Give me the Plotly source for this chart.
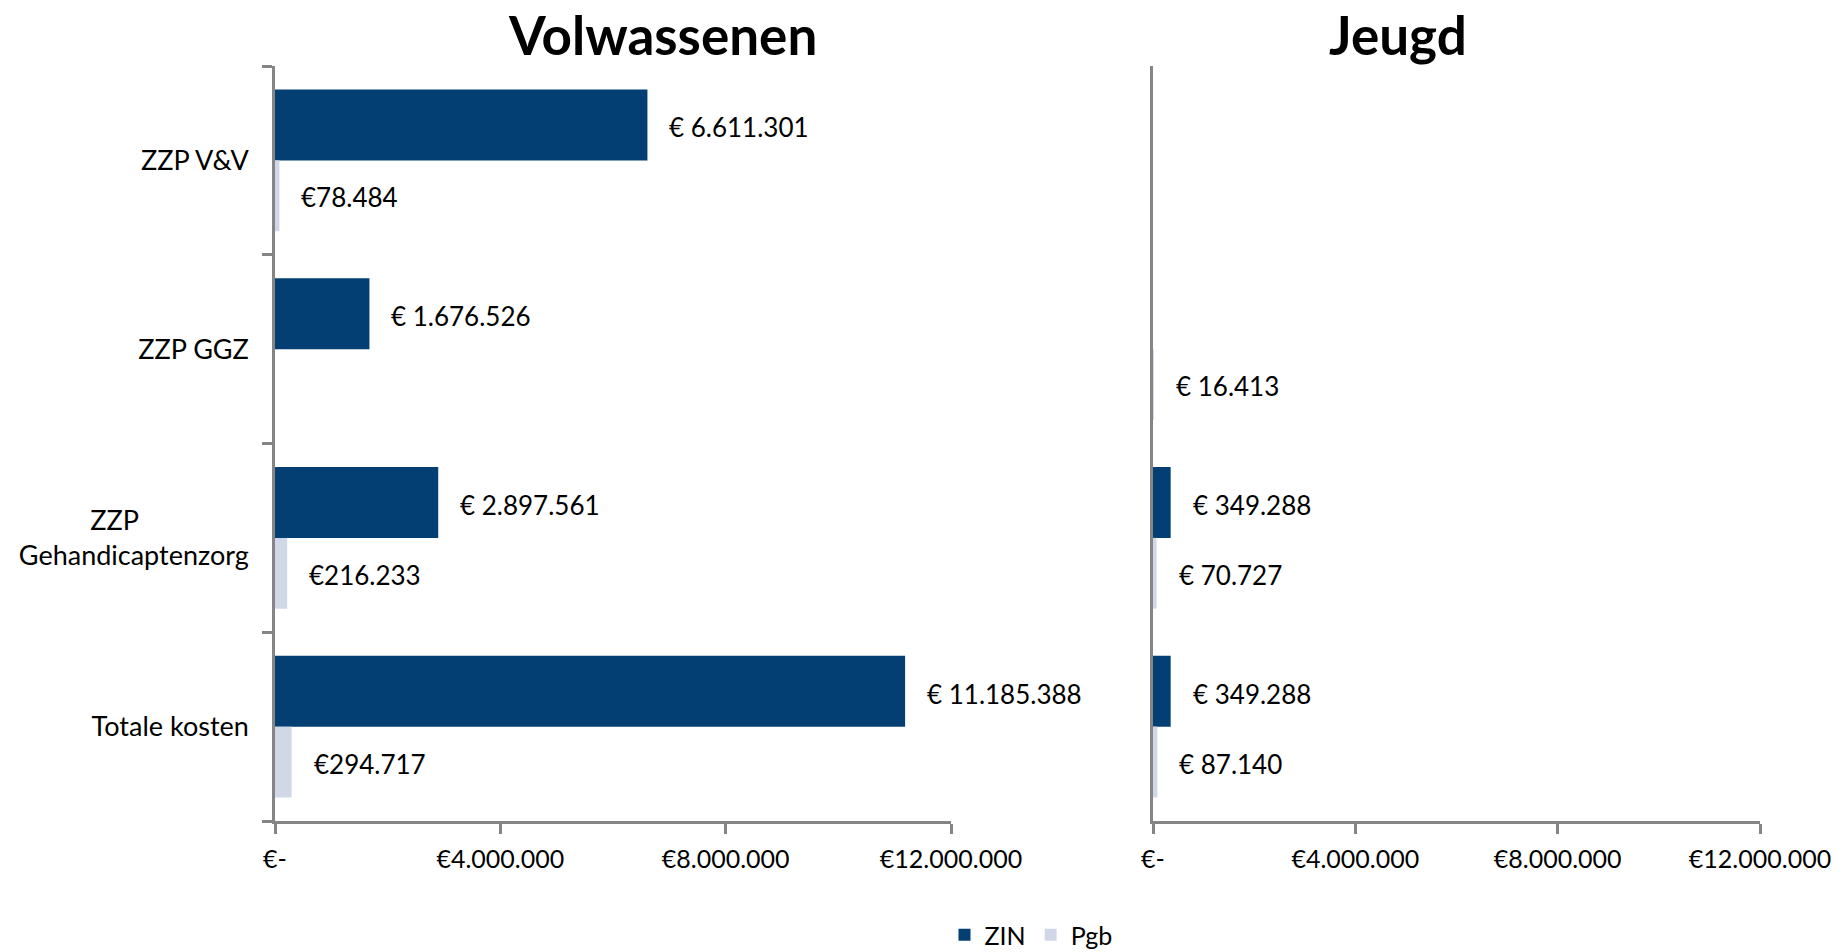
import plotly.graph_objects as go

# Zorgkosten per zorgzwaartepakket, uitgesplitst naar zorg in natura (ZIN) en pgb
categories = ["ZZP V&V", "ZZP GGZ", "ZZP Gehandicaptenzorg", "Totale kosten"]
# "ZZP" wordt met harde spaties boven "Gehandicaptenzorg" gecentreerd
category_labels = ["ZZP V&V", "ZZP GGZ",
                   "ZZP" + "\u00a0" * 16 + "<br>Gehandicaptenzorg", "Totale kosten"]

volw_zin = [6611301, 1676526, 2897561, 11185388]
volw_pgb = [78484, None, 216233, 294717]
jeugd_zin = [None, None, 349288, 349288]
jeugd_pgb = [None, 16413, 70727, 87140]

x_tickvals = [0, 4000000, 8000000, 12000000]
x_ticktext = ["€-", "€4.000.000", "€8.000.000", "€12.000.000"]

ZIN_COLOR = "#033F73"
PGB_COLOR = "#D0D8E8"
AXIS_COLOR = "#858585"
FONT = "Lato"


def euro(value, prefix):
    return prefix + f"{value:,.0f}".replace(",", ".")


fig = go.Figure()

panels = [
    ("x", "y", volw_zin, volw_pgb, "€ ", "€", True),
    ("x2", "y2", jeugd_zin, jeugd_pgb, "€ ", "€ ", False),
]

for xa, ya, zin, pgb, zin_prefix, pgb_prefix, show_legend in panels:
    fig.add_trace(go.Bar(
        y=categories, x=zin, orientation="h", name="ZIN",
        marker=dict(color=ZIN_COLOR, line=dict(width=0)),
        xaxis=xa, yaxis=ya, showlegend=show_legend, legendgroup="ZIN",
    ))
    fig.add_trace(go.Bar(
        y=categories, x=pgb, orientation="h", name="Pgb",
        marker=dict(color=PGB_COLOR, line=dict(width=0)),
        xaxis=xa, yaxis=ya, showlegend=show_legend, legendgroup="Pgb",
    ))
    # waardelabels rechts naast de balken
    for series, prefix, shift in ((zin, zin_prefix, 33), (pgb, pgb_prefix, -37)):
        for cat, val in zip(categories, series):
            if val is None:
                continue
            fig.add_annotation(
                x=val, y=cat, xref=xa, yref=ya, text=euro(val, prefix),
                showarrow=False, xanchor="left", yanchor="middle",
                xshift=20, yshift=shift,
                font=dict(family=FONT, size=26, color="#000000"),
            )

axis_common = dict(
    showline=True, linecolor=AXIS_COLOR, linewidth=2.5,
    showgrid=False, zeroline=False,
)

fig.update_layout(
    template="none",
    width=1840, height=952,
    margin=dict(l=0, r=0, t=0, b=0, autoexpand=False),
    paper_bgcolor="white", plot_bgcolor="white",
    font=dict(family=FONT, size=25, color="#000000"),
    barmode="group", bargap=0.25, bargroupgap=0,
    xaxis=dict(
        domain=[275 / 1840, 951 / 1840], range=[0, 12000000],
        tickvals=x_tickvals, ticktext=x_ticktext,
        ticks="outside", ticklen=10, tickwidth=2.5, tickcolor=AXIS_COLOR,
        ticklabelstandoff=4, tickfont=dict(family=FONT, size=25),
        anchor="y", automargin=False, **axis_common,
    ),
    yaxis=dict(
        domain=[131 / 952, 886 / 952], autorange="reversed",
        type="category", categoryorder="array", categoryarray=categories,
        tickvals=categories, ticktext=category_labels,
        ticks="outside", tickson="boundaries", ticklen=10, tickwidth=2.5,
        tickcolor=AXIS_COLOR, ticklabelstandoff=18,
        tickfont=dict(family=FONT, size=27),
        anchor="x", automargin=False, **axis_common,
    ),
    xaxis2=dict(
        domain=[1153 / 1840, 1760 / 1840], range=[0, 12000000],
        tickvals=x_tickvals, ticktext=x_ticktext,
        ticks="outside", ticklen=10, tickwidth=2.5, tickcolor=AXIS_COLOR,
        ticklabelstandoff=4, tickfont=dict(family=FONT, size=25),
        anchor="y2", automargin=False, **axis_common,
    ),
    yaxis2=dict(
        domain=[131 / 952, 886 / 952], autorange="reversed",
        type="category", categoryorder="array", categoryarray=categories,
        showticklabels=False, ticks="",
        anchor="x2", automargin=False, **axis_common,
    ),
    legend=dict(
        orientation="h", x=1031 / 1840, y=17 / 952,
        xanchor="center", yanchor="middle",
        itemwidth=30, font=dict(family=FONT, size=25),
        bgcolor="rgba(0,0,0,0)",
    ),
    annotations=list(fig.layout.annotations) + [
        dict(text="<b>Volwassenen</b>", x=662 / 1840, y=1 - 35 / 952,
             xref="paper", yref="paper", xanchor="center", yanchor="middle",
             showarrow=False, font=dict(family=FONT, size=53, color="#000000")),
        dict(text="<b>Jeugd</b>", x=1398 / 1840, y=1 - 35 / 952,
             xref="paper", yref="paper", xanchor="center", yanchor="middle",
             showarrow=False, font=dict(family=FONT, size=53, color="#000000")),
    ],
)

fig.write_html("out.html")
